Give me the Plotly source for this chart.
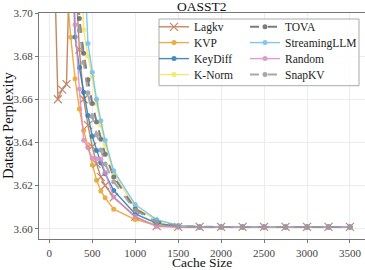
import plotly.graph_objects as go

cache_sizes = [50, 100, 150, 200, 250, 300, 350, 400, 450, 500, 550, 600, 650, 750,
               1000, 1250, 1500, 1750, 2000, 2250, 2500, 2750, 3000, 3250, 3500]

tail = [3.6008, 3.6008, 3.6008, 3.6008, 3.6008, 3.6008, 3.6008, 3.6008]  # 1750..3500

lagkv = [3.738, 3.660, 3.6645, 3.667, 3.745, 3.720, 3.683, 3.660, 3.648, 3.638, 3.630,
         3.624, 3.620, 3.6145, 3.6055, 3.6012, 3.6008] + tail
kvp = [None, 3.90, 3.80, 3.712, 3.6887, 3.6695, 3.6555, 3.6455, 3.638, 3.6295, 3.6225,
       3.6175, 3.6143, 3.609, 3.6042, 3.6015, 3.6009] + tail
keydiff = [None, None, None, 3.80, 3.74, 3.6889, 3.6747, 3.6632, 3.6525, 3.6428, 3.6362,
           3.6305, 3.6255, 3.6177, 3.6068, 3.6025, 3.6010] + tail
knorm = [None, None, None, None, None, 3.80, 3.74, 3.6922, 3.680, 3.6705, 3.658,
         3.648, 3.639, 3.6255, 3.6098, 3.6038, 3.6013] + tail
tova = [None, None, None, None, 3.82, 3.75, 3.6974, 3.6813, 3.669, 3.658, 3.6495,
        3.6415, 3.6345, 3.624, 3.6092, 3.6035, 3.6012] + tail
streaming = [None, None, None, None, None, 3.82, 3.77, 3.73, 3.6858, 3.6725, 3.660,
             3.650, 3.641, 3.6268, 3.6112, 3.6042, 3.6015] + tail
random_ = [None, None, None, None, 3.80, 3.6946, 3.6647, 3.641, 3.6375, 3.6326, 3.6324,
           3.6322, 3.626, 3.6147, 3.6057, 3.6010, 3.6007] + tail
snapkv = [None, None, None, None, 3.82, 3.75, 3.692, 3.677, 3.663, 3.652, 3.6435,
          3.6365, 3.630, 3.6217, 3.6085, 3.6030, 3.6011] + tail

x_ticks = [0, 500, 1000, 1500, 2000, 2500, 3000, 3500]
y_ticks = [3.60, 3.62, 3.64, 3.66, 3.68, 3.70]

FONT = "Liberation Serif"
W, H = 365, 270
ML, MR, MT, MB = 39, 0, 13, 31
PW, PH = W - ML - MR, H - MT - MB

def px_x(p):
    return (p - ML) / PW

def px_y(p):
    return 1 - (p - MT) / PH

# name, values, color, dash, symbol, legend column, legend row
series = [
    ("Lagkv", lagkv, "#b8744c", "solid", "x-thin", 0, 0),
    ("KVP", kvp, "#e9a024", "solid", "circle", 0, 1),
    ("KeyDiff", keydiff, "#1f7ab8", "solid", "circle", 0, 2),
    ("K-Norm", knorm, "#f3e55a", "solid", "circle", 0, 3),
    ("TOVA", tova, "#666666", "dash", "circle", 1, 0),
    ("StreamingLLM", streaming, "#6cbfec", "solid", "circle", 1, 1),
    ("Random", random_, "#d98dc8", "solid", "circle", 1, 2),
    ("SnapKV", snapkv, "#9a9a9a", "dash", "circle", 1, 3),
]

col_x = [154, 245]
row_y = [26.8, 42.6, 58.6, 74.6]

fig = go.Figure()
layout_legends = {}
for i, (name, vals, color, dash, sym, col, row) in enumerate(series):
    key = "legend" if i == 0 else f"legend{i + 1}"
    if sym == "x-thin":
        marker = dict(symbol="x-thin", size=8, line=dict(color=color, width=1.2), color=color)
    else:
        marker = dict(symbol="circle", size=5, color=color)
    fig.add_trace(go.Scatter(
        x=cache_sizes, y=vals, name=name, mode="lines+markers",
        line=dict(color=color, width=2 if dash == "dash" else 1.4, dash=dash),
        marker=marker, opacity=0.85, legend=key,
    ))
    layout_legends[key] = dict(
        x=px_x(col_x[col]), y=px_y(row_y[row]), xanchor="left", yanchor="middle",
        bgcolor="rgba(0,0,0,0)", borderwidth=0, itemwidth=30,
        font=dict(size=11.5, family=FONT, color="#222"),
    )

fig.update_layout(
    width=W, height=H,
    margin=dict(l=ML, r=MR, t=MT, b=MB),
    paper_bgcolor="white", plot_bgcolor="white",
    font=dict(family=FONT, color="#222", size=11),
    showlegend=True,
    **layout_legends,
)
# legend frame
fig.add_shape(type="rect", xref="paper", yref="paper",
              x0=px_x(159), x1=px_x(359), y0=px_y(85.7), y1=px_y(19),
              line=dict(color="#aaaaaa", width=1), fillcolor="rgba(255,255,255,0.85)",
              layer="above")

fig.add_annotation(text="OASST2", xref="paper", yref="paper",
                   x=px_x(ML + PW / 2), y=px_y(6.3), xanchor="center", yanchor="middle",
                   showarrow=False, font=dict(size=13.5, color="#111", family=FONT))
fig.add_annotation(text="Cache Size", xref="paper", yref="paper",
                   x=px_x(ML + PW / 2), y=px_y(262.8), xanchor="center", yanchor="middle",
                   showarrow=False, font=dict(size=13.5, color="#111", family=FONT))
fig.add_annotation(text="Dataset Perplexity", xref="paper", yref="paper",
                   x=px_x(8), y=px_y(126), xanchor="center", yanchor="middle",
                   textangle=-90, showarrow=False,
                   font=dict(size=14.5, color="#111", family=FONT))

fig.update_xaxes(
    range=[-120, 3675], tickvals=x_ticks, ticktext=[str(v) for v in x_ticks],
    showgrid=True, gridcolor="#ececec", gridwidth=1, zeroline=False,
    showline=True, linecolor="#777", linewidth=1, mirror=True,
    ticks="outside", ticklen=3, tickcolor="#777", automargin=False,
    ticklabelstandoff=1,
    tickfont=dict(size=11, color="#444", family=FONT),
)
fig.update_yaxes(
    range=[3.5952, 3.70], tickvals=y_ticks, ticktext=[f"{v:.2f}" for v in y_ticks],
    showgrid=True, gridcolor="#ececec", gridwidth=1, zeroline=False,
    showline=True, linecolor="#777", linewidth=1, mirror=True,
    ticks="outside", ticklen=3, tickcolor="#777", automargin=False,
    tickfont=dict(size=11, color="#444", family=FONT),
)

fig.write_html("out.html", config={"displayModeBar": False},
               post_script="document.body.style.margin='0px';document.body.style.overflow='hidden';")
